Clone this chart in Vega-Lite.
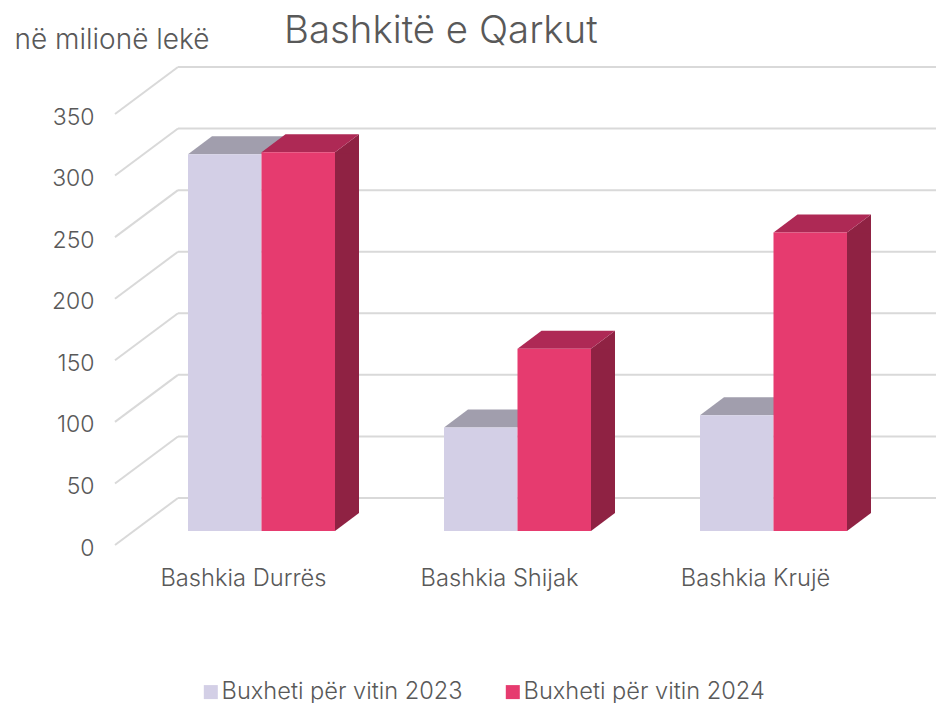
{"$schema":"https://vega.github.io/schema/vega-lite/v6.json","width":758,"height":431,"autosize":"none","padding":{"left":178,"top":67,"right":0,"bottom":205},"background":"white","config":{"view":{"stroke":null},"font":"Inter"},"title":{"text":"Bashkitë e Qarkut","anchor":"start","font":"Inter","fontSize":38.4,"fontWeight":300,"color":"#595959","dx":270,"dy":25,"offset":0},"datasets":{"bars":[{"bashkia":"Bashkia Durrës","series":"Buxheti për vitin 2023","value":306},{"bashkia":"Bashkia Durrës","series":"Buxheti për vitin 2024","value":307.5},{"bashkia":"Bashkia Shijak","series":"Buxheti për vitin 2023","value":84},{"bashkia":"Bashkia Shijak","series":"Buxheti për vitin 2024","value":148},{"bashkia":"Bashkia Krujë","series":"Buxheti për vitin 2023","value":94},{"bashkia":"Bashkia Krujë","series":"Buxheti për vitin 2024","value":242.5}],"ticks":[{"tick":0},{"tick":50},{"tick":100},{"tick":150},{"tick":200},{"tick":250},{"tick":300},{"tick":350}]},"layer":[{"data":{"name":"ticks"},"mark":{"type":"rule","stroke":"#d9d9d9","strokeWidth":2},"encoding":{"x":{"value":0},"x2":{"value":758},"y":{"field":"tick","type":"quantitative","scale":{"domain":[0,350],"nice":false},"axis":{"values":[0,50,100,150,200,250,300,350],"grid":false,"domain":false,"ticks":false,"labelPadding":84,"labelOffset":50,"labelFontSize":23,"labelFontWeight":300,"labelColor":"#595959","labelFont":"Inter","title":"në milionë lekë","titleFont":"Inter","titleFontSize":28,"titleFontWeight":300,"titleColor":"#595959","titleAngle":0,"titleAlign":"left","titleBaseline":"middle","titleX":-164,"titleY":-27}}}},{"data":{"name":"ticks"},"mark":{"type":"point","filled":false,"shape":"M0,0L-63,47","size":4,"stroke":"#d9d9d9","strokeWidth":2,"opacity":1},"encoding":{"x":{"value":0},"y":{"field":"tick","type":"quantitative"}}},{"data":{"name":"bars"},"transform":[{"filter":"datum.series === 'Buxheti për vitin 2024'"}],"mark":{"type":"bar","width":24,"yOffset":33,"y2Offset":15},"encoding":{"x":{"field":"bashkia","type":"nominal","sort":null,"scale":{"range":[-62.5,705.5],"paddingInner":0.4258,"paddingOuter":0.2129},"axis":{"title":null,"domain":false,"ticks":false,"labelAngle":0,"labelPadding":68,"labelFontSize":23.7,"labelFontWeight":300,"labelColor":"#595959","labelFont":"Inter"}},"xOffset":{"field":"series","type":"nominal","scale":{"domain":["Buxheti për vitin 2023","Buxheti për vitin 2024"],"range":[66.75,213.75]}},"y":{"field":"value","type":"quantitative","stack":null},"y2":{"datum":0},"color":{"value":"#8f2243"}}},{"data":{"name":"bars"},"transform":[{"filter":"datum.series === 'Buxheti për vitin 2024'"}],"mark":{"type":"point","filled":true,"opacity":1,"size":4,"shape":"M36.75,1L60.75,1L60.75,-18L36.75,0Z","yOffset":33},"encoding":{"x":{"field":"bashkia","type":"nominal","sort":null},"xOffset":{"field":"series","type":"nominal","scale":{"domain":["Buxheti për vitin 2023","Buxheti për vitin 2024"],"range":[18,165]}},"y":{"field":"value","type":"quantitative"},"color":{"value":"#8f2243"}}},{"data":{"name":"bars"},"transform":[{"filter":"datum.series === 'Buxheti për vitin 2024'"}],"mark":{"type":"point","filled":true,"opacity":1,"size":4,"shape":"M36.75,-19L60.75,-19L60.75,-18L36.75,0Z","yOffset":33},"encoding":{"x":{"field":"bashkia","type":"nominal","sort":null},"xOffset":{"field":"series","type":"nominal","scale":{"domain":["Buxheti për vitin 2023","Buxheti për vitin 2024"],"range":[18,165]}},"y":{"datum":0,"type":"quantitative"},"color":{"value":"#8f2243"}}},{"data":{"name":"bars"},"mark":{"type":"point","filled":true,"opacity":1,"size":4,"shape":"M36.75,0L60.75,-18L-12.75,-18L-36.75,0Z","yOffset":33},"encoding":{"x":{"field":"bashkia","type":"nominal","sort":null},"xOffset":{"field":"series","type":"nominal","scale":{"range":[18,165]}},"y":{"field":"value","type":"quantitative"},"color":{"field":"series","type":"nominal","legend":null,"scale":{"range":["#a19ead","#ae2955"]}}}},{"data":{"name":"bars"},"mark":{"type":"bar","yOffset":33,"y2Offset":33},"encoding":{"x":{"field":"bashkia","type":"nominal","sort":null},"xOffset":{"field":"series","type":"nominal","scale":{"range":[18,165]}},"y":{"field":"value","type":"quantitative","stack":null},"y2":{"datum":0},"color":{"field":"series","type":"nominal","scale":{"range":["#d3cfe6","#e63b6f"]},"legend":{"title":null,"orient":"none","direction":"horizontal","legendX":21,"legendY":613,"symbolType":"square","symbolSize":196,"symbolOpacity":1,"labelFontSize":23.6,"labelFontWeight":300,"labelLimit":400,"labelColor":"#595959","labelFont":"Inter","columnPadding":38,"labelOffset":-1,"symbolStrokeWidth":0}}}}],"resolve":{"scale":{"color":"independent","xOffset":"independent"}}}
